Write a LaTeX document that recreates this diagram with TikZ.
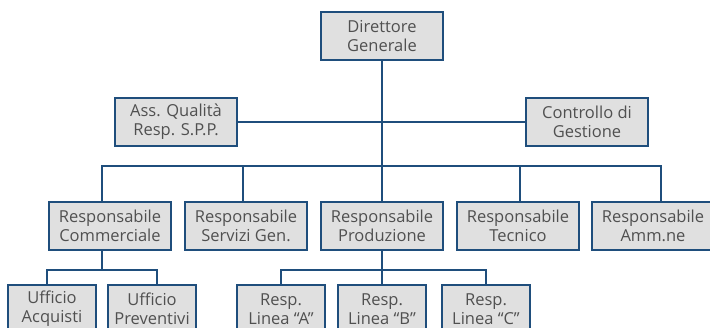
\documentclass[tikz,border=0pt]{standalone}
\usepackage{fontspec}
\setmainfont{Open Sans}
\usepackage{xcolor}
\usetikzlibrary{positioning}

\definecolor{orgblue}{HTML}{1F4E7C}
\definecolor{orgfill}{HTML}{E0E0E0}
\definecolor{orgtext}{HTML}{505050}

\tikzset{
  box/.style={draw=orgblue, fill=orgfill, line width=2pt, text=orgtext,
    minimum width=122pt, minimum height=48pt, align=center, inner sep=1pt,
    font=\fontsize{16.5}{19}\selectfont},
  smallbox/.style={box, minimum width=88pt},
  link/.style={draw=orgblue, line width=1.6pt}
}

\begin{document}
\begin{tikzpicture}[x=1pt,y=-1pt]
\useasboundingbox (0,0) rectangle (710,328);

% Top
\node[box] (dir) at (382,36) {Direttore\\Generale};

% Staff
\node[box] (qual) at (176,122) {Ass. Qualità\\Resp. S.P.P.};
\node[box] (ctrl) at (587,122) {Controllo di\\Gestione};

% Responsabili
\node[box] (comm) at (110,226) {Responsabile\\Commerciale};
\node[box] (serv) at (246,226) {Responsabile\\Servizi Gen.};
\node[box] (prod) at (382,226) {Responsabile\\Produzione};
\node[box] (tecn) at (518,226) {Responsabile\\Tecnico};
\node[box] (amm) at (653,226) {Responsabile\\Amm.ne};

% Uffici
\node[smallbox] (acq) at (52,309) {Ufficio\\Acquisti};
\node[smallbox] (prev) at (152,309) {Ufficio\\Preventivi};

% Linee
\node[smallbox] (linA) at (281,309) {Resp.\\Linea ``A''};
\node[smallbox] (linB) at (382,309) {Resp.\\Linea ``B''};
\node[smallbox] (linC) at (486,309) {Resp.\\Linea ``C''};

% Bus levels
\coordinate (bus) at (0,166);
\coordinate (busU) at (0,270);

% Connections
\draw[link] (dir.south) -- (prod.north);
\draw[link] (qual.east) -- (ctrl.west);
\draw[link] ([xshift=-8pt]comm.north) -- ([xshift=-8pt]comm.north |- bus) -| ([xshift=8pt]amm.north);
\draw[link] ([xshift=-3pt]serv.north) -- ([xshift=-3pt]serv.north |- bus);
\draw[link] ([xshift=2pt]tecn.north) -- ([xshift=2pt]tecn.north |- bus);
\draw[link] ([xshift=-8pt]comm.south) -- ([xshift=-8pt]comm.south |- busU);
\draw[link] ([xshift=-5pt]acq.north) |- ([xshift=5pt]prev.north |- busU) -- ([xshift=5pt]prev.north);
\draw[link] (prod.south) -- (prod.south |- busU);
\draw[link] (linA.north) |- (linC.north |- busU) -- (linC.north);
\draw[link] (linB.north) -- (prod.south |- busU);
\end{tikzpicture}
\end{document}
